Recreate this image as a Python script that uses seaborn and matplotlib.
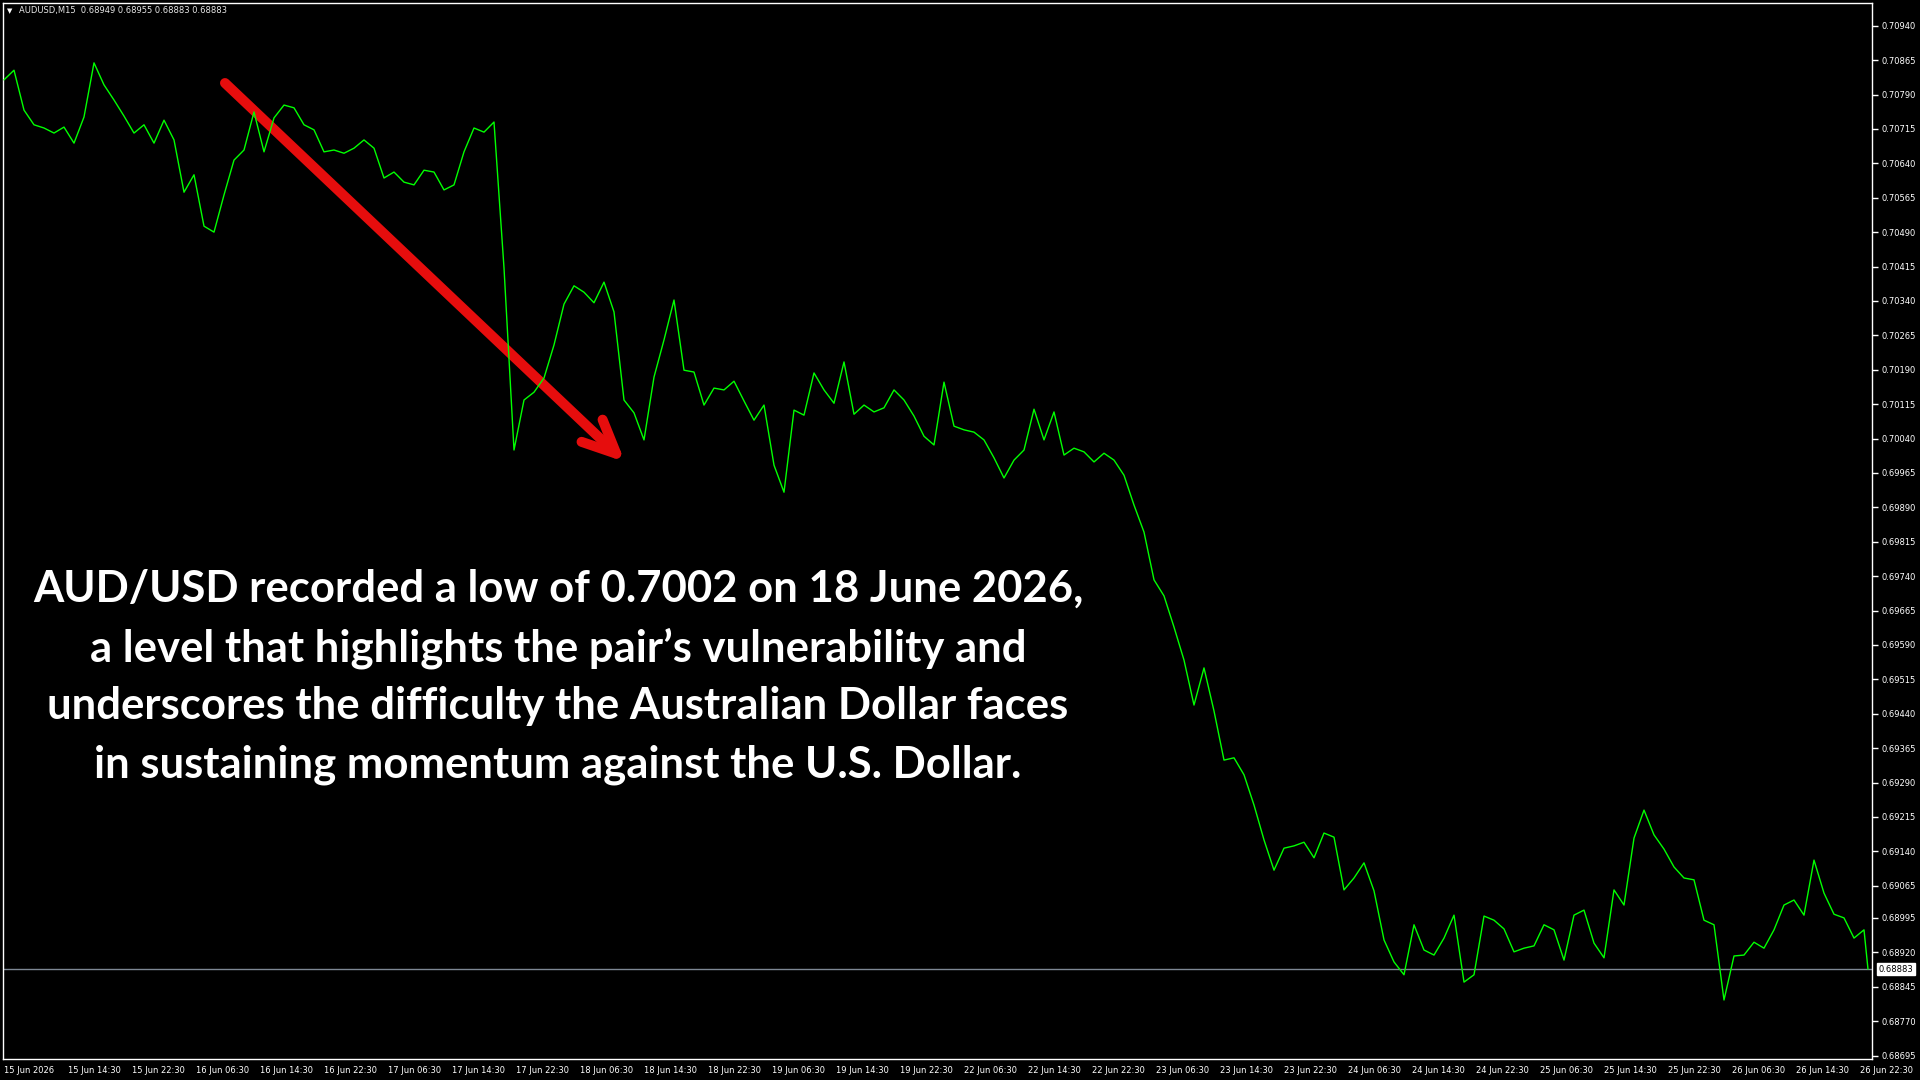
import matplotlib
matplotlib.use("Agg")
import matplotlib.pyplot as plt
import matplotlib.transforms as mtransforms
import pandas as pd
import seaborn as sns

# AUDUSD M15 closes, one value every 5 bars
symbol = "AUDUSD,M15"
last_ohlc = ["0.68949", "0.68955", "0.68883", "0.68883"]
bar_step = 5
closes = [
    0.70822, 0.70843, 0.70756, 0.70724, 0.70717, 0.70706, 0.70719, 0.70684, 0.70741, 0.70859,
    0.70811, 0.70778, 0.70743, 0.70706, 0.70724, 0.70684, 0.70734, 0.70691, 0.70577, 0.70615,
    0.70503, 0.70490, 0.70571, 0.70647, 0.70669, 0.70752, 0.70665, 0.70739, 0.70767, 0.70761,
    0.70724, 0.70713, 0.70665, 0.70669, 0.70662, 0.70673, 0.70691, 0.70673, 0.70608, 0.70621,
    0.70599, 0.70593, 0.70625, 0.70621, 0.70582, 0.70593, 0.70665, 0.70717, 0.70708, 0.70730,
    0.70412, 0.70015, 0.70124, 0.70141, 0.70172, 0.70244, 0.70333, 0.70373, 0.70359, 0.70336,
    0.70381, 0.70316, 0.70124, 0.70096, 0.70037, 0.70174, 0.70255, 0.70342, 0.70189, 0.70185,
    0.70113, 0.70150, 0.70146, 0.70165, 0.70122, 0.70080, 0.70113, 0.69982, 0.69923, 0.70102,
    0.70091, 0.70183, 0.70146, 0.70117, 0.70207, 0.70093, 0.70113, 0.70098, 0.70107, 0.70146,
    0.70124, 0.70089, 0.70045, 0.70026, 0.70163, 0.70067, 0.70059, 0.70054, 0.70037, 0.69998,
    0.69954, 0.69993, 0.70015, 0.70104, 0.70037, 0.70098, 0.70004, 0.70019, 0.70011, 0.69989,
    0.70008, 0.69993, 0.69960, 0.69895, 0.69836, 0.69732, 0.69697, 0.69629, 0.69557, 0.69459,
    0.69540, 0.69446, 0.69339, 0.69344, 0.69307, 0.69241, 0.69165, 0.69099, 0.69147, 0.69152,
    0.69160, 0.69126, 0.69180, 0.69171, 0.69056, 0.69082, 0.69115, 0.69054, 0.68947, 0.68899,
    0.68871, 0.68980, 0.68925, 0.68914, 0.68951, 0.69001, 0.68855, 0.68871, 0.68999, 0.68990,
    0.68971, 0.68921, 0.68929, 0.68934, 0.68980, 0.68969, 0.68903, 0.69001, 0.69012, 0.68940,
    0.68908, 0.69056, 0.69023, 0.69169, 0.69230, 0.69176, 0.69145, 0.69106, 0.69082, 0.69078,
    0.68990, 0.68980, 0.68816, 0.68912, 0.68914, 0.68942, 0.68929, 0.68969, 0.69023, 0.69034,
    0.69001, 0.69121, 0.69049, 0.69003, 0.68995, 0.68951, 0.68969,
]
last_bar = 932
last_close = 0.68883

price_ticks = [
    "0.70940", "0.70865", "0.70790", "0.70715", "0.70640", "0.70565", "0.70490", "0.70415",
    "0.70340", "0.70265", "0.70190", "0.70115", "0.70040", "0.69965", "0.69890", "0.69815",
    "0.69740", "0.69665", "0.69590", "0.69515", "0.69440", "0.69365", "0.69290", "0.69215",
    "0.69140", "0.69065", "0.68995", "0.68920", "0.68845", "0.68770", "0.68695",
]
time_labels = [
    "15 Jun 2026", "15 Jun 14:30", "15 Jun 22:30", "16 Jun 06:30", "16 Jun 14:30",
    "16 Jun 22:30", "17 Jun 06:30", "17 Jun 14:30", "17 Jun 22:30", "18 Jun 06:30",
    "18 Jun 14:30", "18 Jun 22:30", "19 Jun 06:30", "19 Jun 14:30", "19 Jun 22:30",
    "22 Jun 06:30", "22 Jun 14:30", "22 Jun 22:30", "23 Jun 06:30", "23 Jun 14:30",
    "23 Jun 22:30", "24 Jun 06:30", "24 Jun 14:30", "24 Jun 22:30", "25 Jun 06:30",
    "25 Jun 14:30", "25 Jun 22:30", "26 Jun 06:30", "26 Jun 14:30", "26 Jun 22:30",
]
bars_per_label = 32

note_lines = [
    "AUD/USD recorded a low of 0.7002 on 18 June 2026,",
    "a level that highlights the pair\u2019s vulnerability and",
    "underscores the difficulty the Australian Dollar faces",
    "in sustaining momentum against the U.S. Dollar.",
]

df = pd.DataFrame({
    "bar": [i * bar_step for i in range(len(closes))] + [last_bar],
    "close": closes + [last_close],
})

sns.set_style("dark")
plt.rcParams["font.family"] = ["DejaVu Sans"]

fig = plt.figure(figsize=(19.2, 10.8), dpi=100, facecolor="black")
ax = fig.add_axes([3 / 1920, 1 - 1059 / 1080, 1869 / 1920, 1056 / 1080])
ax.set_facecolor("black")

# trend arrow, drawn under the price line
ax.annotate("", xy=(310.5, 0.69989), xytext=(110.5, 0.70815),
            arrowprops=dict(arrowstyle="->,head_length=2.4,head_width=1.1",
                            color="#e60d0d", lw=7.2, capstyle="round",
                            joinstyle="round", mutation_scale=10,
                            shrinkA=0, shrinkB=0),
            zorder=2)

sns.lineplot(data=df, x="bar", y="close", ax=ax, color="#00ff00",
             linewidth=1.0, zorder=3)

ax.axhline(last_close, color="#7d8794", lw=1.0, zorder=2)

ax.set_xlim(-0.5, 934)
ax.set_ylim(0.686874, 0.709895)

for s in ax.spines.values():
    s.set_color("white")
    s.set_linewidth(1.0)

ax.yaxis.tick_right()
ax.set_yticks([float(t) for t in price_ticks])
ax.set_yticklabels(price_ticks)
ax.set_xticks([i * bars_per_label for i in range(len(time_labels))])
ax.set_xticklabels(time_labels)
for lbl in ax.get_xticklabels():
    lbl.set_ha("left")
ax.tick_params(axis="y", direction="out", length=4, width=1, colors="white",
               labelsize=6, pad=3)
ax.tick_params(axis="x", direction="out", length=3, width=1, colors="white",
               labelsize=6, pad=2)
ax.set_xlabel("")
ax.set_ylabel("")
ax.grid(False)

# current price tag on the right axis
trans = mtransforms.blended_transform_factory(ax.transAxes, ax.transData)
ax.text(1.0035, last_close, f"{last_close:.5f}", transform=trans, fontsize=6,
        color="black", va="center", ha="left", clip_on=False,
        bbox=dict(boxstyle="square,pad=0.2", fc="white", ec="white"))

# chart header
fig.text(7 / 1920, 1 - 11 / 1080, "\u25bc", color="white", fontsize=5, va="center")
fig.text(19 / 1920, 1 - 11 / 1080, symbol + "  " + " ".join(last_ohlc),
         color="#e8e8e8", fontsize=6, va="center")

ax.text(0.297, 0.362, "\n".join(note_lines), transform=ax.transAxes,
        ha="center", va="center", color="white", fontsize=31.4,
        fontweight="bold", family=["Lato", "DejaVu Sans"], linespacing=1.54,
        zorder=5)

fig.savefig("out.png", dpi=100, facecolor="black")
